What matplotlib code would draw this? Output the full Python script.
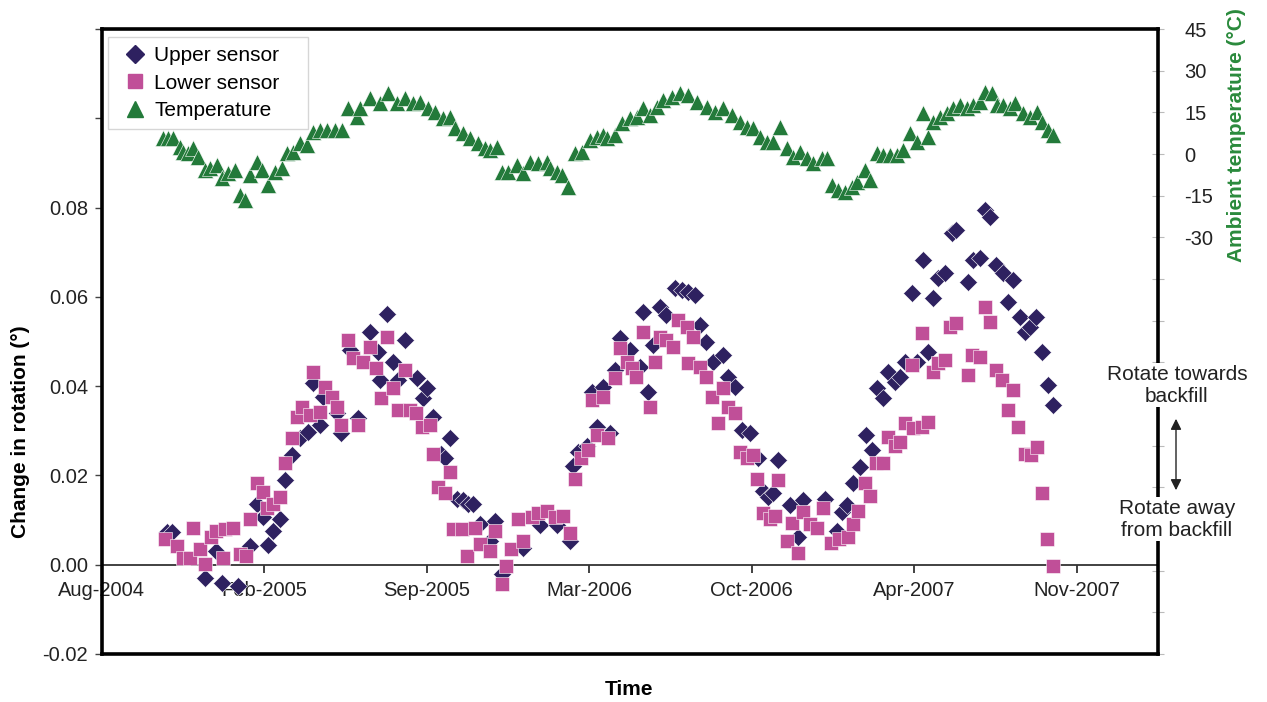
import matplotlib
matplotlib.use("Agg")
import matplotlib.pyplot as plt
import matplotlib.dates as mdates
from matplotlib.lines import Line2D
import pandas as pd
import numpy as np

plt.rcParams['font.family'] = ['Liberation Sans', 'DejaVu Sans']

# ---- data (days since 1 Aug 2004) ----
base_date = "2004-08-01"

upper_day = [80, 86, 127, 141, 148, 168, 182, 191, 198, 205,
             211, 219, 226, 234, 244, 254, 260, 269, 272, 289,
             295, 305, 315, 330, 340, 342, 351, 358, 364, 373,
             388, 395, 400, 408, 418, 422, 429, 437, 445, 451,
             457, 466, 478, 484, 492, 518, 539, 560, 576, 580,
             586, 597, 603, 609, 617, 625, 632, 638, 650, 662,
             666, 672, 679, 687, 695, 706, 714, 721, 730, 736,
             744, 752, 765, 771, 779, 788, 798, 808, 814, 820,
             826, 832, 847, 857, 863, 890, 905, 911, 917, 925,
             933, 941, 948, 954, 962, 968, 976, 982, 989, 997,
             1003, 1011, 1017, 1023, 1029, 1038, 1046, 1052, 1066, 1072,
             1081, 1087, 1093, 1101, 1109, 1115, 1122, 1130, 1136, 1143,
             1150, 1157, 1165, 1171]
upper_val = [.0073, .0073, -.0030, .0031, -.0042, -.0047, .0043, .0137, .0106, .0045,
             .0076, .0103, .0189, .0245, .0283, .0297, .0407, .0312, .0375, .0339,
             .0294, .0481, .0328, .0521, .0476, .0413, .0562, .0454, .0413, .0503,
             .0418, .0373, .0395, .0330, .0249, .0238, .0283, .0148, .0144, .0137,
             .0137, .0092, .0054, .0099, -.0020, .0038, .0088, .0088, .0054, .0222,
             .0252, .0267, .0386, .0308, .0398, .0294, .0436, .0508, .0481, .0443,
             .0566, .0386, .0492, .0577, .0560, .0620, .0616, .0611, .0604, .0537,
             .0499, .0454, .0470, .0420, .0398, .0301, .0294, .0238, .0166, .0151,
             .0160, .0234, .0133, .0061, .0144, .0148, .0076, .0117, .0133, .0182,
             .0218, .0290, .0256, .0395, .0373, .0431, .0409, .0420, .0454, .0609,
             .0454, .0683, .0476, .0598, .0643, .0654, .0744, .0750, .0634, .0683,
             .0688, .0795, .0780, .0672, .0654, .0589, .0638, .0555, .0521, .0533,
             .0555, .0476, .0402, .0357]

lower_day = [78, 92, 100, 109, 112, 121, 127, 135, 141, 149,
             152, 161, 170, 178, 182, 191, 198, 203, 211, 219,
             226, 234, 240, 246, 256, 260, 269, 275, 283, 289,
             295, 303, 309, 315, 321, 330, 338, 344, 351, 358,
             365, 373, 379, 387, 394, 404, 408, 414, 422, 429,
             432, 443, 449, 459, 466, 478, 484, 492, 498, 504,
             512, 518, 529, 537, 548, 558, 568, 576, 582, 590,
             598, 603, 609, 617, 623, 632, 638, 646, 652, 658,
             666, 675, 681, 687, 695, 703, 709, 720, 721, 728,
             736, 744, 751, 758, 765, 771, 779, 785, 794, 801,
             806, 814, 823, 829, 832, 843, 849, 857, 863, 872,
             880, 888, 898, 908, 918, 925, 931, 939, 946, 953,
             961, 968, 976, 982, 989, 997, 998, 1009, 1009, 1017,
             1023, 1029, 1038, 1044, 1052, 1066, 1071, 1081, 1087, 1093,
             1101, 1108, 1115, 1122, 1128, 1136, 1144, 1151, 1157, 1163,
             1171]
lower_val = [.0058, .0043, .0016, .0016, .0083, .0036, .0002, .0061, .0076, .0016,
             .0079, .0083, .0025, .0020, .0103, .0182, .0162, .0126, .0137, .0151,
             .0227, .0283, .0330, .0353, .0335, .0431, .0342, .0398, .0375, .0353,
             .0312, .0503, .0463, .0312, .0454, .0488, .0440, .0373, .0510, .0395,
             .0346, .0436, .0346, .0339, .0308, .0312, .0249, .0173, .0160, .0207,
             .0081, .0081, .0020, .0083, .0047, .0031, .0076, -.0043, -.0002, .0036,
             .0103, .0054, .0106, .0115, .0121, .0106, .0110, .0072, .0193, .0240,
             .0256, .0369, .0290, .0375, .0283, .0418, .0485, .0454, .0440, .0420,
             .0521, .0353, .0454, .0510, .0503, .0488, .0548, .0533, .0452, .0510,
             .0443, .0420, .0375, .0317, .0395, .0353, .0339, .0252, .0238, .0245,
             .0193, .0115, .0103, .0110, .0189, .0054, .0094, .0027, .0117, .0092,
             .0083, .0128, .0049, .0058, .0061, .0092, .0121, .0182, .0155, .0227,
             .0227, .0285, .0267, .0274, .0317, .0447, .0306, .0308, .0519, .0319,
             .0431, .0452, .0458, .0533, .0542, .0425, .0470, .0465, .0577, .0544,
             .0436, .0413, .0346, .0391, .0308, .0249, .0245, .0263, .0160, .0058,
             -.0002]

temp_day = [75, 81, 88, 96, 100, 106, 112, 118, 127, 133,
            142, 148, 155, 164, 170, 176, 183, 191, 197, 205,
            213, 222, 228, 235, 244, 253, 260, 269, 277, 287,
            296, 303, 314, 318, 330, 342, 352, 363, 373, 383,
            392, 401, 410, 420, 429, 435, 445, 453, 463, 472,
            478, 487, 493, 500, 511, 518, 527, 537, 548, 552,
            560, 566, 574, 582, 591, 601, 609, 617, 622, 632,
            640, 650, 659, 666, 675, 683, 691, 702, 712, 722,
            733, 745, 755, 765, 776, 785, 794, 801, 810, 819,
            826, 835, 843, 851, 859, 868, 875, 886, 893, 899,
            906, 915, 923, 929, 939, 946, 954, 961, 970, 979,
            986, 995, 1003, 1011, 1017, 1023, 1032, 1040, 1048, 1056,
            1065, 1072, 1081, 1087, 1096, 1102, 1109, 1118, 1124, 1134,
            1143, 1151, 1157, 1165, 1171]
temp_val = [5.9, 5.9, 5.9, 2.7, 0.9, 0.5, 2.3, -0.9, -5.6, -4.9,
            -3.8, -8.5, -6.7, -5.6, -14.6, -16.4, -7.4, -2.7, -5.6, -11.0,
            -6.3, -4.9, 0.5, 0.9, 4.1, 3.4, 8.1, 8.8, 8.8, 8.8,
            8.8, 16.7, 13.5, 16.7, 20.3, 18.5, 22.1, 18.5, 20.3, 18.5,
            18.9, 16.7, 15.3, 13.1, 13.5, 9.5, 7.7, 5.9, 4.1, 2.3,
            1.6, 2.7, -6.3, -6.3, -3.8, -6.7, -2.7, -3.1, -2.7, -4.9,
            -6.3, -7.4, -11.7, 0.5, 0.9, 5.2, 6.3, 7.0, 5.9, 7.0,
            11.3, 13.1, 13.5, 16.7, 14.2, 17.1, 19.6, 20.7, 22.1, 21.4,
            18.9, 17.1, 15.3, 16.7, 14.2, 11.7, 9.9, 9.5, 6.3, 4.5,
            4.5, 9.9, 2.3, -0.9, 0.9, -1.3, -3.1, -1.3, -1.3, -11.0,
            -12.8, -13.8, -11.7, -9.9, -5.6, -9.2, 0.5, -0.2, -0.2, -0.2,
            1.6, 7.7, 4.5, 14.9, 6.3, 11.7, 13.5, 14.9, 16.7, 17.8,
            16.7, 17.8, 18.9, 22.5, 22.1, 17.8, 17.8, 16.7, 18.5, 14.9,
            13.5, 15.3, 11.7, 8.8, 7.0]

x_tick_days = [0, 200, 400, 600, 800, 1000, 1200]
x_span_days = 1300
left_ticks = [-0.02, 0.00, 0.02, 0.04, 0.06, 0.08, 0.10, 0.12]
left_labels = ['-0.02', '0.00', '0.02', '0.04', '0.06', '0.08', '', '']
right_ticks = list(range(-180, 46, 15))
right_labeled = [45, 30, 15, 0, -15, -30]

series_names = ['Upper sensor', 'Lower sensor', 'Temperature']
c_upper = '#2e2160'
c_lower = '#c04f98'
c_temp = '#237a3a'
c_temp_label = '#2a8a3c'

base = pd.Timestamp(base_date)
to_date = lambda d: base + pd.to_timedelta(np.asarray(d), unit='D')

fig = plt.figure(figsize=(12.67, 7.02), dpi=100)
ax = fig.add_axes([0.08035, 0.06838, 0.8336, 0.8903])
ax2 = ax.twinx()

ax.plot(to_date(upper_day), upper_val, linestyle='none', marker='D', ms=9,
        color=c_upper, mec='white', mew=0.4, zorder=3)
ax.plot(to_date(lower_day), lower_val, linestyle='none', marker='s', ms=10,
        color=c_lower, mec='white', mew=0.4, zorder=4)
ax2.plot(to_date(temp_day), temp_val, linestyle='none', marker='^', ms=11,
         color=c_temp, mec='white', mew=0.4, zorder=3)

ax.set_xlim(to_date([0])[0], to_date([x_span_days])[0])
ax.set_ylim(-0.02, 0.12)
ax2.set_ylim(-180, 45)

# x axis at zero
ax.spines['bottom'].set_position(('data', 0))
ax.spines['bottom'].set_linewidth(1.3)
ax.spines['bottom'].set_color('#333333')
for s in ['left', 'right', 'top']:
    ax.spines[s].set_visible(False)
ax.set_xticks(list(to_date(x_tick_days)))
ax.xaxis.set_major_formatter(mdates.DateFormatter('%b-%Y'))
ax.tick_params(axis='x', direction='out', length=6, width=1.3, color='#333333',
               labelsize=14.5, pad=6, labelcolor='#222222')

ax.set_yticks(left_ticks)
ax.set_yticklabels(left_labels)
ax.tick_params(axis='y', direction='out', length=5, width=1.0, color='#444444',
               labelsize=14.5, pad=5, labelcolor='#222222')

# frame
for s in ['left', 'right', 'top', 'bottom']:
    ax2.spines[s].set_linewidth(2.6)
    ax2.spines[s].set_color('black')
ax2.set_yticks(right_ticks)
ax2.set_yticklabels([str(t) if t in right_labeled else '' for t in right_ticks])
ax2.tick_params(axis='y', direction='inout', length=8, width=0.8, color='#bbbbbb',
                labelsize=14.5, pad=15, labelcolor='#222222')

ax.set_ylabel('Change in rotation (°)', fontsize=15, fontweight='bold')
ax.yaxis.set_label_coords(-0.068, 0.355)
ax2.set_ylabel('Ambient temperature (°C)', fontsize=15, fontweight='bold',
               color=c_temp_label, rotation=90)
ax2.yaxis.set_label_coords(1.065, 0.83)
ax.set_xlabel('Time', fontsize=15, fontweight='bold')
ax.xaxis.set_label_coords(0.499, -0.041)

handles = [Line2D([], [], linestyle='none', marker='D', ms=9, color=c_upper),
           Line2D([], [], linestyle='none', marker='s', ms=10, color=c_lower),
           Line2D([], [], linestyle='none', marker='^', ms=11, color=c_temp)]
leg = ax2.legend(handles, series_names, loc='upper left',
                 bbox_to_anchor=(0.006, 0.987, 0.189, 0.0), mode='expand',
                 fontsize=15, frameon=True,
                 fancybox=False, edgecolor='#cccccc', handlelength=1.7,
                 handletextpad=0.1, labelspacing=0.42, borderpad=0.42,
                 borderaxespad=0)
leg.get_frame().set_linewidth(1.0)
leg.set_zorder(10)

# annotations on right side
fig.text(1177 / 1267, 1 - 385 / 702, 'Rotate towards\nbackfill', ha='center',
         va='center', fontsize=15, color='#222222', linespacing=1.2,
         bbox=dict(facecolor='white', edgecolor='none', pad=1))
fig.text(1177 / 1267, 1 - 519 / 702, 'Rotate away\nfrom backfill', ha='center',
         va='center', fontsize=15, color='#222222', linespacing=1.2,
         bbox=dict(facecolor='white', edgecolor='none', pad=1))
fig.patches.append(matplotlib.patches.FancyArrowPatch(
    (1176 / 1267, 1 - 416 / 702), (1176 / 1267, 1 - 493 / 702),
    transform=fig.transFigure, arrowstyle='<|-|>', mutation_scale=16,
    color='#222222', lw=1.0))

fig.savefig('out.png', dpi=100)
